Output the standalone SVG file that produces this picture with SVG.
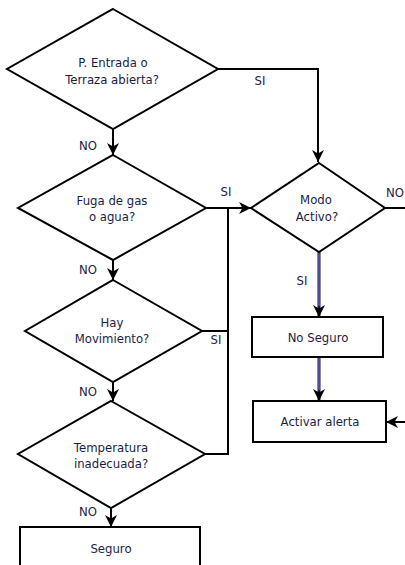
<svg xmlns="http://www.w3.org/2000/svg" width="405" height="565" viewBox="0 0 405 565">
  <style>
    .shape { fill: #ffffff; stroke: #000000; stroke-width: 2; }
    .wire { fill: none; stroke: #000000; stroke-width: 2; }
    .wire-blue { fill: none; stroke: #15154a; stroke-width: 3; }
    .wire-core { fill: none; stroke: #8585cc; stroke-width: 1; }
    text { font-family: "DejaVu Sans", Verdana, sans-serif; font-size: 11.7px; fill: #1c1c48; text-anchor: middle; }
  </style>
  <defs>
    <marker id="arrow" markerUnits="userSpaceOnUse" markerWidth="13" markerHeight="13" refX="12" refY="6" orient="auto">
      <path d="M0,0 L12,6 L0,12 L3.5,6 Z" fill="#000000"/>
    </marker>
  </defs>

  <rect width="405" height="565" fill="#ffffff"/>

  <!-- connectors -->
  <g id="connectors">
    <polyline class="wire" points="218,69 318,69 318,162" marker-end="url(#arrow)"/>
    <line class="wire" x1="113" y1="129" x2="113" y2="155" marker-end="url(#arrow)"/>
    <line class="wire" x1="206" y1="208" x2="251" y2="208" marker-end="url(#arrow)"/>
    <line class="wire" x1="228" y1="208" x2="228" y2="455"/>
    <line class="wire" x1="202" y1="331" x2="228" y2="331"/>
    <line class="wire" x1="205" y1="454" x2="229" y2="454"/>
    <line class="wire" x1="113" y1="260" x2="113" y2="280" marker-end="url(#arrow)"/>
    <line class="wire" x1="113" y1="382" x2="113" y2="401" marker-end="url(#arrow)"/>
    <line class="wire" x1="111" y1="508" x2="111" y2="527" marker-end="url(#arrow)"/>
    <line class="wire" x1="385" y1="208" x2="405" y2="208"/>
    <line class="wire" x1="405" y1="422" x2="386" y2="422" marker-end="url(#arrow)"/>
    <line class="wire-blue" x1="319" y1="252" x2="319" y2="317" marker-end="url(#arrow)"/>
    <line class="wire-core" x1="319" y1="253" x2="319" y2="306"/>
    <line class="wire-blue" x1="319" y1="357" x2="319" y2="401" marker-end="url(#arrow)"/>
    <line class="wire-core" x1="319" y1="358" x2="319" y2="390"/>

    <text x="260" y="85">SI</text>
    <text x="88" y="150">NO</text>
    <text x="226" y="196">SI</text>
    <text x="395" y="197">NO</text>
    <text x="88" y="274">NO</text>
    <text x="302" y="285">SI</text>
    <text x="216" y="344">SI</text>
    <text x="88" y="396">NO</text>
    <text x="88" y="516">NO</text>
  </g>

  <!-- decisions -->
  <g id="puerta-abierta">
    <polygon class="shape" points="113,9 218,69 113,129 7,69"/>
    <text x="113" y="67">P. Entrada o</text>
    <text x="112" y="84">Terraza abierta?</text>
  </g>

  <g id="fuga">
    <polygon class="shape" points="113,155 206,208 113,260 18,208"/>
    <text x="112" y="205">Fuga de gas</text>
    <text x="112" y="221">o agua?</text>
  </g>

  <g id="movimiento">
    <polygon class="shape" points="113,280 202,331 113,382 25,331"/>
    <text x="112" y="327">Hay</text>
    <text x="112" y="343">Movimiento?</text>
  </g>

  <g id="temperatura">
    <polygon class="shape" points="111,401 205,454 111,508 18,454"/>
    <text x="111" y="452">Temperatura</text>
    <text x="111" y="468">inadecuada?</text>
  </g>

  <g id="modo-activo">
    <polygon class="shape" points="319,163 385,208 319,252 251,208"/>
    <text x="316" y="204">Modo</text>
    <text x="317" y="221">Activo?</text>
  </g>

  <!-- process boxes -->
  <g id="no-seguro">
    <rect class="shape" x="252" y="317" width="131" height="40"/>
    <text x="318" y="342">No Seguro</text>
  </g>

  <g id="activar-alerta">
    <rect class="shape" x="253" y="401" width="133" height="41"/>
    <text x="320" y="426">Activar alerta</text>
  </g>

  <g id="seguro">
    <rect class="shape" x="20" y="527" width="180" height="50"/>
    <text x="111" y="553">Seguro</text>
  </g>
</svg>
